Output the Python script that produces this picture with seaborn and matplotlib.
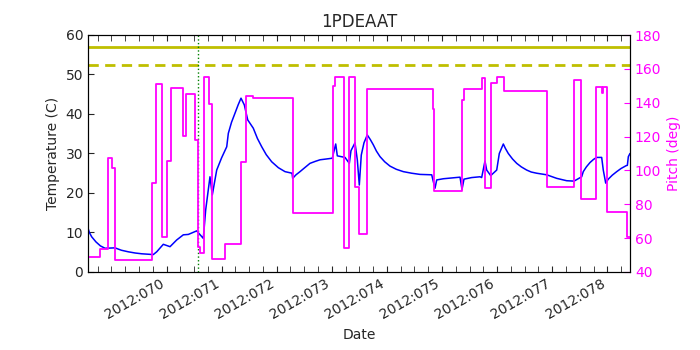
# Temperature and pitch over time for 1PDEAAT

import matplotlib
matplotlib.use('Agg')
import matplotlib.pyplot as plt
import matplotlib.ticker as mticker
import seaborn as sns
import pandas as pd

# pitch (deg), step values starting at each time (day of year 2012)
pitch_time = [68.575, 68.793, 68.933, 69.005, 69.065, 69.731, 69.804, 69.913,
              70.004, 70.082, 70.294, 70.348, 70.517, 70.566, 70.608, 70.686,
              70.771, 70.820, 71.062, 71.352, 71.443, 71.575, 72.290, 73.016,
              73.058, 73.227, 73.312, 73.421, 73.499, 73.644, 74.831, 74.860,
              75.358, 75.405, 75.720, 75.780, 75.884, 75.993, 76.125, 76.911,
              77.396, 77.523, 77.789, 77.898, 77.927, 77.989, 78.352, 78.412]
pitch_val = [49.0, 53.4, 107.2, 101.2, 47.0, 92.4, 151.0, 60.9,
             105.7, 148.5, 120.3, 145.1, 118.0, 55.0, 51.4, 155.4,
             139.2, 47.5, 56.4, 105.2, 144.0, 142.8, 75.0, 149.9,
             155.4, 54.0, 155.4, 90.4, 62.4, 147.9, 136.0, 88.0,
             141.6, 148.1, 154.4, 89.4, 151.5, 155.4, 147.1, 90.4,
             153.4, 83.1, 149.1, 145.9, 149.1, 75.6, 60.5, 60.5]

# 1PDEAAT temperature (C)
temp_time = [68.575, 68.60, 68.642, 68.72, 68.80, 68.884, 69.065, 69.18, 69.307,
             69.43, 69.550, 69.760, 69.822,
             69.942, 70.064, 70.185, 70.305, 70.396, 70.548, 70.668, 70.711,
             70.789, 70.831, 70.911, 71.00, 71.093, 71.122, 71.18, 71.243,
             71.30, 71.352, 71.412, 71.474, 71.575, 71.65, 71.728, 71.81,
             71.909, 72.03, 72.151, 72.278, 72.290, 72.35, 72.423, 72.50,
             72.604, 72.70, 72.786, 72.90, 73.009, 73.071, 73.100, 73.240,
             73.318, 73.348, 73.421, 73.463, 73.499, 73.535, 73.584, 73.644,
             73.70, 73.753, 73.81, 73.875, 73.96, 74.056, 74.17, 74.298,
             74.45, 74.601, 74.813, 74.842, 74.873, 74.904, 75.024,
             75.327, 75.363, 75.399, 75.539, 75.690, 75.720, 75.780, 75.811,
             75.884, 75.993, 76.040, 76.113, 76.15, 76.203, 76.28, 76.356,
             76.44, 76.537, 76.62, 76.719, 76.900, 77.082, 77.263, 77.396,
             77.535, 77.564, 77.62, 77.686, 77.75, 77.808,
             77.898, 77.927, 77.971, 78.018, 78.09, 78.171, 78.25, 78.340,
             78.364, 78.382, 78.412]
temp_val = [11.1, 10.0, 8.9, 7.6, 6.6, 6.0, 6.1, 5.5, 5.1,
            4.8, 4.6, 4.4, 5.1,
            7.0, 6.4, 8.1, 9.4, 9.5, 10.4, 8.5, 15.7,
            24.1, 19.5, 25.8, 28.9, 31.7, 35.1, 37.9, 40.2,
            42.3, 44.0, 42.3, 38.5, 36.4, 33.8, 31.7, 29.7,
            27.9, 26.4, 25.4, 25.0, 23.7, 24.6, 25.4, 26.3,
            27.5, 28.0, 28.4, 28.6, 28.8, 32.4, 29.4, 29.0,
            27.5, 30.7, 32.7, 28.4, 22.0, 29.6, 32.7, 34.7,
            33.5, 32.2, 30.6, 29.2, 27.9, 26.8, 26.0, 25.4,
            25.0, 24.7, 24.6, 22.9, 21.2, 23.3, 23.6,
            24.0, 20.9, 23.5, 23.9, 24.1, 23.9, 28.1, 25.8,
            24.4, 25.8, 30.0, 32.4, 31.3, 30.0, 28.6, 27.5,
            26.6, 25.8, 25.3, 25.0, 24.6, 23.7, 23.1, 23.0,
            24.1, 25.4, 26.6, 27.7, 28.5, 29.0,
            29.0, 25.8, 22.5, 23.5, 24.5, 25.4, 26.2, 26.9,
            27.0, 29.2, 30.0]

planning_limit = 57.0
caution_limit = 52.5
marker_day = 70.566
day_ticks = [70, 71, 72, 73, 74, 75, 76, 77, 78]

temp_df = pd.DataFrame({'day': temp_time, 'temp': temp_val})
pitch_df = pd.DataFrame({'day': pitch_time, 'pitch': pitch_val})

sns.set_style('white')
plt.rcParams['font.family'] = ['DejaVu Sans']
plt.rcParams['xtick.direction'] = 'in'
plt.rcParams['ytick.direction'] = 'in'

fig = plt.figure(figsize=(7, 3.5), dpi=100)
ax = fig.add_axes([0.1257, 0.223, 0.7743, 0.677])

sns.lineplot(data=temp_df, x='day', y='temp', ax=ax, color='b',
             linewidth=1.1, estimator=None, sort=False)
ax.axhline(planning_limit, color=(0.75, 0.75, 0), linewidth=2)
ax.axhline(caution_limit, color=(0.75, 0.75, 0), linewidth=2,
           linestyle=(0, (3.7, 2.3)))
ax.axvline(marker_day, color=(0, 0.5, 0), linestyle=':', linewidth=1)

ax.set_xlim(temp_time[0], temp_time[-1])
ax.set_ylim(0, 60)
ax.set_title('1PDEAAT', fontsize=12)
ax.set_xlabel('Date', fontsize=10)
ax.set_ylabel('Temperature (C)', fontsize=10)

ax.xaxis.set_major_locator(mticker.FixedLocator(day_ticks))
ax.xaxis.set_major_formatter(mticker.FuncFormatter(lambda v, p: '2012:%03d' % round(v)))
ax.xaxis.set_minor_locator(mticker.MultipleLocator(0.25))
ax.tick_params(axis='x', which='both', length=4, top=True, bottom=True)
ax.tick_params(axis='y', which='both', length=4, left=True, right=False)
ax.tick_params(labelsize=10)
for lab in ax.get_xticklabels():
    lab.set_rotation(30)
    lab.set_ha('right')

ax2 = ax.twinx()
sns.lineplot(data=pitch_df, x='day', y='pitch', ax=ax2, color='magenta',
             linewidth=1.3, estimator=None, sort=False, drawstyle='steps-post')
ax2.set_ylim(40, 180)
ax2.set_xlim(temp_time[0], temp_time[-1])
ax2.set_ylabel('Pitch (deg)', color='magenta', fontsize=10)
ax2.tick_params(axis='y', colors='magenta', labelsize=10, length=4,
                direction='in', right=True)
for sp in ax2.spines.values():
    sp.set_color('black')
for sp in ax.spines.values():
    sp.set_color('black')

fig.savefig('out.png', dpi=100, facecolor='white')
